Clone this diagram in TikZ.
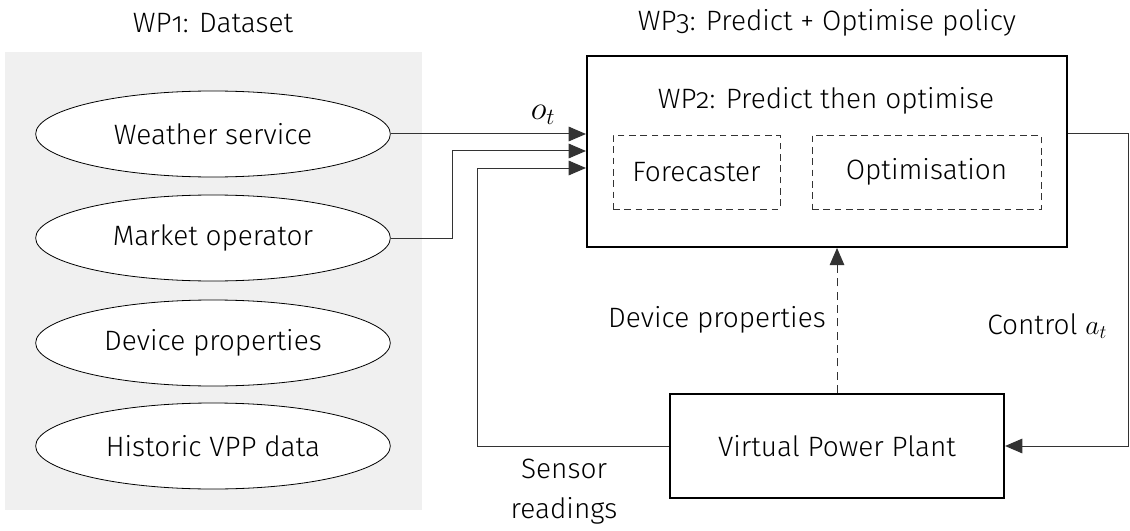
\documentclass[tikz,border=0pt]{standalone}
\usepackage{fontspec}
\setmainfont{Fira Sans Light}[Numbers=OldStyle]
\usetikzlibrary{arrows.meta,shapes.geometric}
\begin{document}
\begin{tikzpicture}[x=0.75pt,y=-0.75pt,
  every node/.style={font=\fontsize{21}{24}\selectfont},
  src/.style={ellipse,draw,fill=white,line width=0.6pt,minimum width=266pt,minimum height=64.5pt,inner sep=0pt},
  bigbox/.style={draw,line width=1.6pt,minimum width=360pt,minimum height=143pt,inner sep=0pt},
  subbox/.style={draw,dashed,line width=0.6pt,dash pattern=on 5pt off 3.5pt,draw=black!80,inner sep=0pt,minimum height=55.5pt},
  conn/.style={line width=0.75pt,draw=black!80},
  tip/.style={-{Triangle[length=13pt,width=11pt]}},
  lbl/.style={inner sep=0pt}]
\useasboundingbox (0,0) rectangle (1130,531);
\fill[black!6] (5,52) rectangle (422,510);
\node[lbl] (t1) at (213,23) {WP1: Dataset};
\node[lbl] (t3) at (827,23) {WP3: Predict + Optimise policy};
\node[src] (ws) at (213,134) {Weather service};
\node[src] (mo) at (213,238) {Market operator};
\node[src] (dp) at (213,343) {Device properties};
\node[src] (hv) at (213,446) {Historic VPP data};
\node[bigbox] (pol) at (827,151.5) {};
\node[lbl] (wp2) at (826,101) {WP2: Predict then optimise};
\node[subbox,minimum width=125.25pt] (fc) at (696.5,172) {Forecaster};
\node[subbox,minimum width=171.75pt] (op) at (926.5,172) {Optimisation};
\node[draw,line width=1.6pt,minimum width=250.5pt,minimum height=78pt,inner sep=0pt] (vpp) at (837,446) {Virtual Power Plant};
\coordinate (in1) at (pol.west |- 0,134);
\coordinate (in2) at (pol.west |- 0,151);
\coordinate (in3) at (pol.west |- 0,168);
\coordinate (out) at (pol.east |- 0,134);
\draw[conn,tip] (ws.east) -- node[lbl,above=7pt,pos=0.78,font=\fontsize{23}{24}\selectfont] (ot) {$o_t$} (in1);
\draw[conn,tip] (mo.east) -| (452,151) -- (in2);
\draw[conn,tip] (vpp.west) -| (477,168) -- (in3);
\draw[conn,tip] (out) -| (1128,446) -- (vpp.east);
\draw[conn,tip,dashed,dash pattern=on 6pt off 4pt] (vpp.north) -- (vpp.north |- pol.south);
\node[lbl,anchor=east] (dpl) at (826,320) {Device properties};
\node[lbl,anchor=west] (ctl) at (987,326) {Control $a_t$};
\node[lbl] (sr1) at (564,469) {Sensor};
\node[lbl] (sr2) at (564,511) {readings};
\end{tikzpicture}
\end{document}
